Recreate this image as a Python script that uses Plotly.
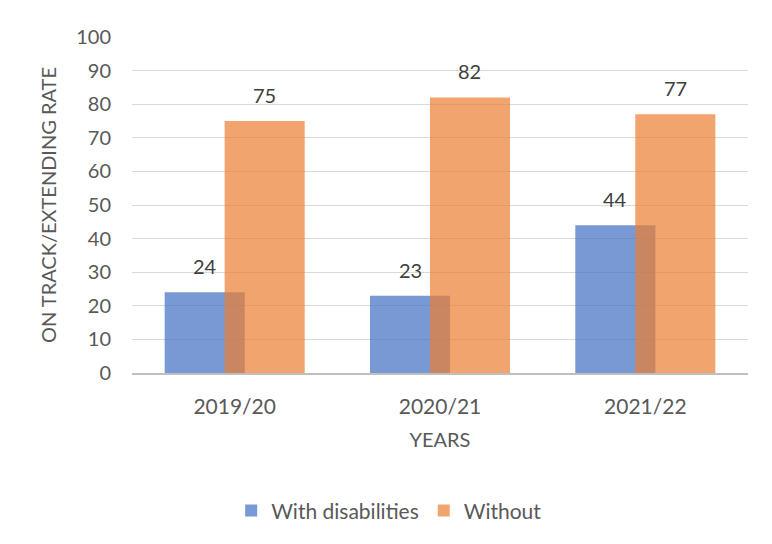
import plotly.graph_objects as go

years = ["2019/20", "2020/21", "2021/22"]
with_disabilities = [24, 23, 44]
without = [75, 82, 77]
y_ticks = list(range(0, 101, 10))

xpos = list(range(len(years)))
bar_w = 0.39
font_fam = "Lato, 'Open Sans', sans-serif"
txt = "#595959"

fig = go.Figure()
fig.add_trace(go.Bar(
    x=xpos, y=with_disabilities, name="With disabilities",
    width=bar_w, offset=-0.341,
    marker=dict(color="rgba(68,114,196,0.72)", line=dict(width=0)),
))
fig.add_trace(go.Bar(
    x=xpos, y=without, name="Without",
    width=bar_w, offset=-0.049,
    marker=dict(color="rgba(237,125,49,0.70)", line=dict(width=0)),
))

annotations = []
for i, v in enumerate(with_disabilities):
    annotations.append(dict(x=i - 0.341 + bar_w / 2, y=v, text=str(v), showarrow=False,
                            yanchor="bottom", yshift=12, font=dict(size=20, color="#404040", family=font_fam)))
for i, v in enumerate(without):
    annotations.append(dict(x=i - 0.049 + bar_w / 2, y=v, text=str(v), showarrow=False,
                            yanchor="bottom", yshift=12, font=dict(size=20, color="#404040", family=font_fam)))

fig.update_layout(
    width=772, height=544,
    margin=dict(l=124, r=32, t=29, b=179),
    paper_bgcolor="white", plot_bgcolor="white",
    barmode="overlay",
    font=dict(family=font_fam, color=txt, size=20),
    annotations=annotations,
    legend=dict(orientation="h", x=0.161, xanchor="left", y=-0.41, yanchor="middle",
                font=dict(size=21, color=txt), itemwidth=30, traceorder="normal"),
    xaxis=dict(
        tickvals=xpos, ticktext=years, range=[-0.5, 2.5],
        showgrid=False, zeroline=False,
        showline=True, linecolor="#BFBFBF", linewidth=2,
        ticks="", tickfont=dict(size=21, color=txt), ticklabelstandoff=14,
        title=dict(text="YEARS", font=dict(size=20, color=txt), standoff=16),
    ),
    yaxis=dict(
        range=[0, 100], tickvals=y_ticks,
        showgrid=True, gridcolor="#D9D9D9", gridwidth=1,
        zeroline=False, showline=False, ticks="",
        tickfont=dict(size=20, color=txt), ticklabelstandoff=20,
        title=dict(text="ON TRACK/EXTENDING RATE", font=dict(size=20, color=txt), standoff=14),
    ),
)

fig.write_html("out.html")
